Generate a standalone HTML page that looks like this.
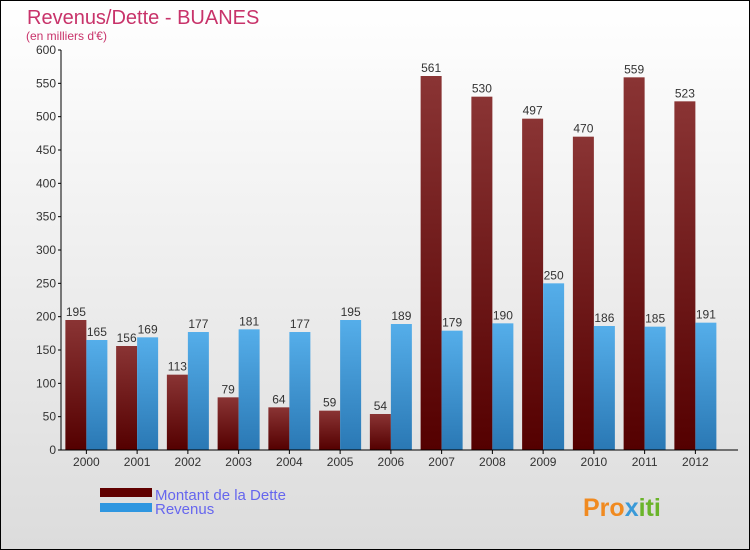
<!DOCTYPE html>
<html><head><meta charset="utf-8"><style>
body{margin:0}
#c{width:750px;height:550px;position:relative;box-sizing:border-box;border:1px solid #000;background:linear-gradient(#fff,#dcdcdc);font-family:"Liberation Sans","DejaVu Sans",sans-serif;overflow:hidden}
</style></head><body>
<div id="c">
<svg id="s" width="750" height="550" style="position:absolute;left:-1px;top:-1px">
<defs>
<linearGradient id="gd" x1="0" y1="0" x2="0" y2="1"><stop offset="0" stop-color="#8a3434"/><stop offset="1" stop-color="#540000"/></linearGradient>
<linearGradient id="gr" x1="0" y1="0" x2="0" y2="1"><stop offset="0" stop-color="#55aeea"/><stop offset="1" stop-color="#2a78b4"/></linearGradient>
</defs>
<text x="27" y="24" font-size="20" fill="#c8336a">Revenus/Dette - BUANES</text>
<text x="26" y="40" font-size="12" fill="#c8336a">(en milliers d'€)</text>
<g id="g"></g>
<rect x="100" y="488" width="52" height="9" fill="#600000"/>
<rect x="100" y="503" width="52" height="9" fill="#2e96e0"/>
<text x="155" y="500" font-size="15" fill="#6666ee">Montant de la Dette</text>
<text x="155" y="514" font-size="15" fill="#6666ee">Revenus</text>
<text x="583" y="516" font-size="25" font-weight="bold" fill="#f08a20">Pro<tspan fill="#3a9ad8">x</tspan><tspan fill="#6ab42a">iti</tspan></text>
</svg>
</div>
<script>
const years=["2000","2001","2002","2003","2004","2005","2006","2007","2008","2009","2010","2011","2012"];
const dette=[195,156,113,79,64,59,54,561,530,497,470,559,523];
const revenus=[165,169,177,181,177,195,189,179,190,250,186,185,191];
const ticks=[0,50,100,150,200,250,300,350,400,450,500,550,600];
const NS="http://www.w3.org/2000/svg";
const g=document.getElementById('g');
const y=v=>450-v*400/600;
const x0=61,step=50.75;
function mk(t,a,p){const e=document.createElementNS(NS,t);for(const k in a)e.setAttribute(k,a[k]);(p||g).appendChild(e);return e;}
ticks.forEach(t=>{
 const l=mk('line',{x1:58,x2:61,y1:y(t),y2:y(t),stroke:'#000'});
 
 
 const tx=mk('text',{x:56,y:y(t)+4,'font-size':12,'text-anchor':'end',fill:'#333'});tx.textContent=t;
 
 
});
years.forEach((yr,i)=>{
 const cx=x0+step*(i+0.5);
 const b1=mk('rect',{x:cx-21,y:y(dette[i]),width:21,height:450-y(dette[i]),fill:'url(#gd)'});
 
 
 const b2=mk('rect',{x:cx,y:y(revenus[i]),width:21,height:450-y(revenus[i]),fill:'url(#gr)'});
 
 
 const t1=mk('text',{x:cx-10.5,y:y(dette[i])-4,'font-size':12,'text-anchor':'middle',fill:'#333'});t1.textContent=dette[i];
 
 
 const t2=mk('text',{x:cx+10.5,y:y(revenus[i])-4,'font-size':12,'text-anchor':'middle',fill:'#333'});t2.textContent=revenus[i];
 
 
 const tk=mk('line',{x1:cx,x2:cx,y1:450,y2:454,stroke:'#000'});
 
 
 const xl=mk('text',{x:cx,y:466,'font-size':12,'text-anchor':'middle',fill:'#333'});xl.textContent=yr;
 
 
});
const ya=mk('line',{x1:61,x2:61,y1:50,y2:450,stroke:'#000'});


const xa=mk('line',{x1:61,x2:738,y1:450,y2:450,stroke:'#000'});


</script>
</body></html>
